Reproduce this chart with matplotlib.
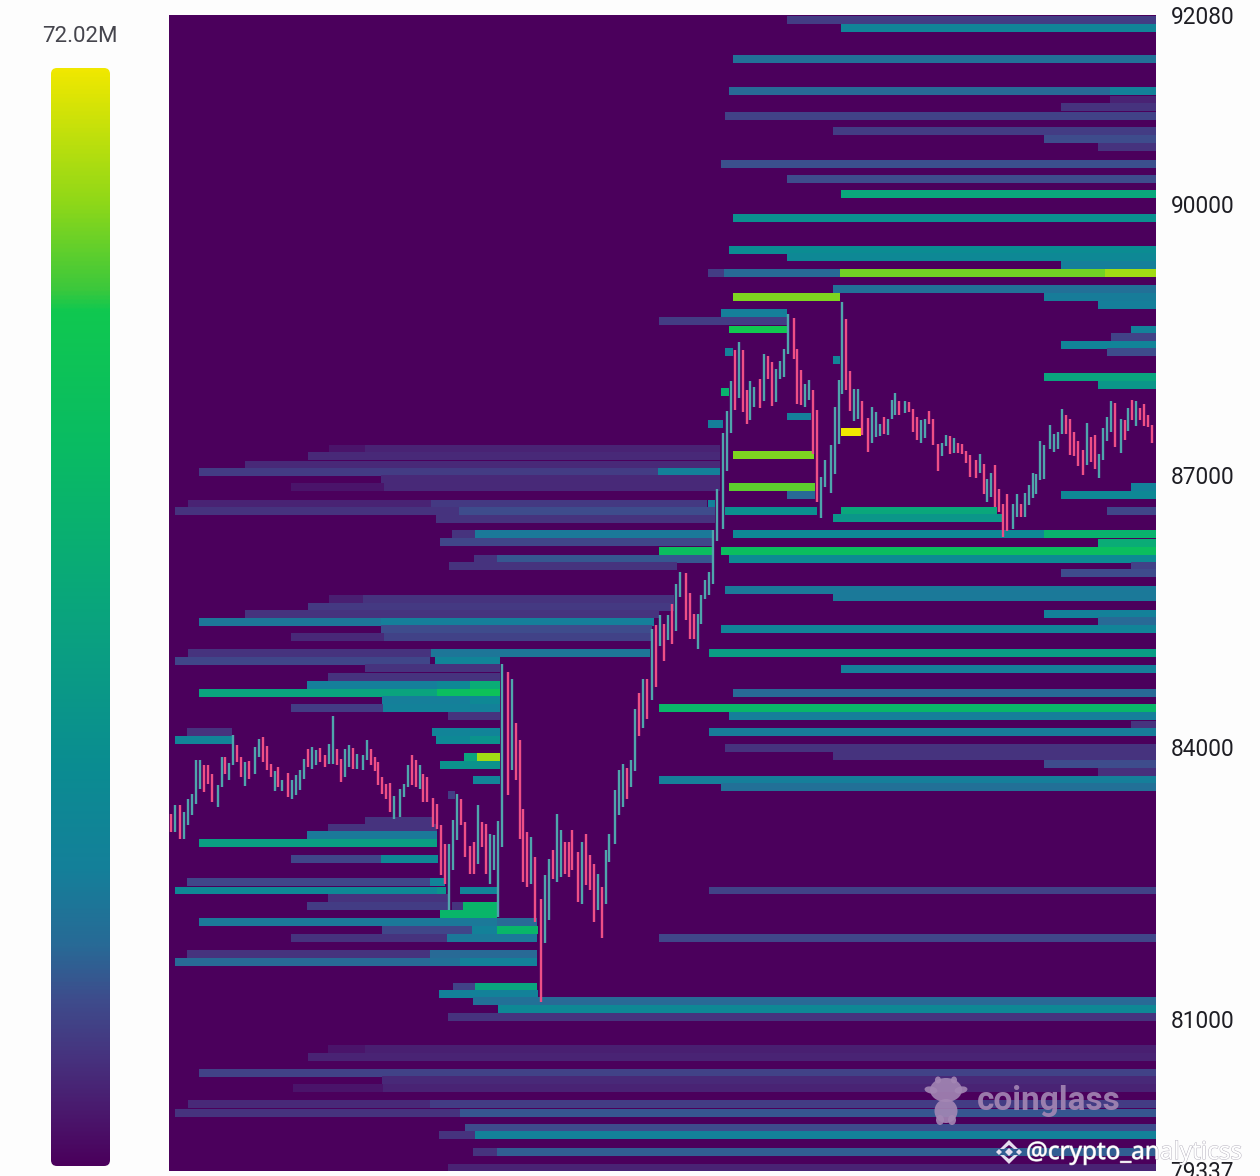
import numpy as np
import matplotlib
matplotlib.use("Agg")
import matplotlib.pyplot as plt
from matplotlib.colors import LinearSegmentedColormap, Normalize
from matplotlib.patches import FancyBboxPatch, Ellipse, Polygon
import matplotlib.patheffects as pe

W, H = 1260, 1176
MAX_VALUE = 72.02
y_ticks = [92080, 90000, 87000, 84000, 81000, 79337]
colorbar_label = "72.02M"

# ---- liquidation heat bands: price row, time start, time end, value in millions
band_price = [
    92030, 91940, 91590, 91240, 91240, 91140, 91060, 90970, 90800, 90710,
    90620, 90440, 90270, 90100, 89840, 89490, 89410, 89320, 89230, 89230,
    89230, 89230, 89060, 88970, 88970, 88880, 88790, 88700, 88610, 88610,
    88530, 88440, 88360, 88360, 88270, 88090, 88000, 87920, 87650, 87570,
    87480, 87220, 87040, 86870, 86870, 86780, 86780, 86690, 86610, 86610,
    86610, 86530, 86350, 86350, 86250, 86170, 86170, 86080, 86000, 85920,
    85740, 85660, 85470, 85390, 85300, 85040, 84860, 84600, 84430, 84340,
    84250, 84170, 83990, 83900, 83820, 83730, 83640, 83560, 82420, 81900,
    81360, 81360, 81280, 81200, 81200, 81110, 81020, 80670, 80670, 80580,
    80410, 80330, 80240, 80240, 80060, 80060, 79970, 79970, 79800, 79720,
    79720, 79540, 79540, 79360,
    87290, 87290, 87210, 87120, 87040, 87040, 86960, 86870, 86870, 86690,
    86690, 86610, 86610, 86520, 86350, 86350, 86260, 86170, 86080, 86080,
    86000, 85640, 85640, 85550, 85470, 85380, 85380, 85300, 85220, 85220,
    85040, 85040, 84950, 84950, 84870, 84780, 84690, 84690, 84690, 84600,
    84600, 84600, 84520, 84520, 84430, 84430, 84340, 84170, 84170, 84080,
    84080, 84080, 83890, 83890, 83810, 83640, 83470, 83190, 83110, 83030,
    82940, 82770, 82770, 82510, 82510, 82420, 82420, 82420, 82340, 82250,
    82250, 82250, 82160, 82070, 82070, 81980, 81980, 81980, 81900, 81900,
    81720, 81720, 81630, 81630, 81630,
]
band_start = [
    617, 671, 563, 559, 940, 940, 891, 555, 663, 874,
    928, 551, 617, 671, 563, 559, 617, 891, 538, 554,
    670, 935, 663, 563, 874, 928, 551, 489, 559, 961,
    941, 891, 937, 555, 663, 874, 928, 551, 617, 538,
    671, 563, 488, 559, 961, 617, 891, 538, 555, 671,
    937, 663, 563, 874, 928, 551, 489, 559, 961, 891,
    555, 663, 874, 928, 551, 539, 671, 563, 489, 559,
    961, 539, 555, 663, 874, 928, 489, 551, 539, 489,
    283, 305, 269, 303, 370, 328, 278, 158, 195, 138,
    29, 212, 123, 213, 18, 260, 5, 290, 295, 269,
    305, 303, 327, 278,
    159, 195, 138, 75, 29, 488, 211, 121, 214, 18,
    261, 5, 289, 266, 282, 305, 270, 489, 304, 327,
    279, 159, 193, 138, 75, 29, 211, 211, 121, 214,
    18, 261, 5, 265, 195, 158, 137, 267, 300, 29,
    267, 300, 212, 300, 121, 213, 278, 17, 262, 5,
    266, 300, 294, 307, 270, 303, 278, 195, 158, 137,
    29, 121, 211, 17, 260, 5, 267, 290, 158, 137,
    282, 293, 270, 29, 327, 212, 302, 327, 121, 277,
    17, 260, 5, 260, 290,
]
band_end = [
    986, 986, 986, 940, 986, 986, 986, 986, 986, 986,
    986, 986, 986, 986, 986, 986, 986, 986, 554, 670,
    935, 986, 986, 670, 986, 986, 617, 617, 617, 986,
    986, 986, 986, 563, 670, 986, 986, 559, 641, 553,
    691, 644, 550, 645, 986, 645, 986, 545, 647, 827,
    986, 832, 874, 986, 986, 986, 542, 986, 986, 986,
    986, 986, 986, 986, 986, 986, 986, 986, 986, 986,
    986, 986, 986, 986, 986, 986, 986, 986, 986, 986,
    305, 367, 368, 370, 986, 986, 986, 195, 986, 986,
    986, 986, 213, 986, 260, 986, 290, 986, 986, 305,
    986, 327, 986, 986,
    195, 550, 550, 550, 488, 550, 550, 214, 550, 261,
    537, 289, 545, 545, 305, 543, 543, 543, 327, 543,
    507, 193, 504, 504, 489, 211, 484, 482, 214, 482,
    261, 480, 260, 330, 330, 330, 267, 300, 330, 267,
    300, 330, 300, 330, 213, 330, 330, 62, 330, 62,
    300, 330, 307, 330, 330, 330, 285, 262, 267, 267,
    267, 211, 268, 260, 275, 267, 276, 327, 278, 278,
    293, 327, 327, 327, 367, 302, 327, 368, 277, 367,
    260, 367, 260, 290, 367,
]
band_value = [
    8.6, 21.6, 15.8, 14.4, 20.2, 5.0, 7.2, 9.4, 8.6, 10.8,
    7.2, 11.5, 10.8, 37.4, 27.4, 25.9, 23.8, 19.4, 8.6, 14.4,
    61.2, 64.8, 15.8, 61.9, 18.7, 19.4, 19.4, 8.6, 56.2, 20.2,
    9.4, 21.6, 10.8, 20.2, 21.6, 36.0, 30.2, 43.2, 19.4, 19.4,
    72.02, 61.9, 20.2, 59.8, 20.2, 14.4, 23.8, 20.2, 27.4, 37.4,
    10.1, 30.2, 23.8, 43.2, 39.6, 49.0, 49.0, 25.2, 9.4, 10.8,
    18.0, 18.0, 20.2, 14.4, 21.6, 33.1, 19.4, 14.4, 44.6, 19.4,
    7.2, 18.7, 7.2, 7.2, 10.8, 6.5, 19.4, 15.8, 9.4, 10.1,
    9.4, 36.0, 20.2, 15.8, 14.4, 23.8, 7.2, 2.9, 4.3, 5.0,
    9.4, 5.8, 2.9, 5.0, 5.8, 8.6, 7.2, 12.2, 10.8, 7.2,
    20.2, 7.2, 13.0, 5.0,
    2.9, 5.0, 5.8, 5.8, 8.6, 20.2, 5.8, 2.9, 5.8, 5.0,
    7.9, 7.2, 10.8, 7.2, 7.2, 18.0, 10.1, 49.0, 7.2, 12.2,
    7.2, 4.3, 7.2, 7.9, 7.2, 17.3, 19.4, 10.8, 5.8, 9.4,
    7.2, 17.3, 10.1, 21.6, 7.2, 7.2, 19.4, 23.8, 39.6, 36.0,
    49.0, 51.8, 19.4, 23.8, 8.6, 20.2, 7.2, 7.2, 21.6, 21.6,
    23.8, 28.8, 36.0, 64.8, 28.8, 21.6, 8.6, 7.2, 7.2, 18.0,
    33.8, 10.1, 23.8, 10.1, 21.6, 23.8, 28.8, 21.6, 7.2, 8.6,
    7.2, 44.6, 44.6, 18.0, 14.4, 10.1, 20.2, 44.6, 7.2, 18.0,
    7.2, 14.4, 14.4, 15.8, 20.2,
]

# ---- candles
candle_time = [
    0.7, 4.7, 10.3, 14.3, 18.3, 22.3, 26, 30, 34, 38,
    42, 48, 52, 55.3, 59.3, 63.3, 67, 71, 75, 78.7,
    85, 89, 92.7, 96.7, 100.7, 104.7, 108.3, 112.3, 118, 122,
    125.7, 129.7, 133.7, 137.7, 141.7, 145.7, 149.7, 155, 159.3, 163.3,
    167, 171, 175, 179, 182.7, 186.7, 192.7, 196.7, 200.7, 204.7,
    208.3, 212.3, 216.3, 220, 224, 230, 233.7, 237.7, 241.7, 245.7,
    249.7, 253.3, 257.3, 263, 267, 271, 275, 279, 283, 286.7,
    290.7, 294.7, 300.3, 304.3, 308.3, 312.3, 316, 320, 324, 328,
    332, 337.7, 341.7, 345.7, 349.7, 353.3, 357.3, 361.3, 365.3, 370.7,
    375, 379, 383, 386.7, 390.7, 394.7, 398.7,
    402, 408, 412, 416, 420, 424, 428, 432, 435.7, 439.3,
    445.3, 449, 453, 457, 461, 465, 468.7, 472.7, 476.7, 482.3,
    486.3, 490, 494, 498, 502, 505.7, 509.7, 515.7, 519.7, 523.7,
    527.7, 531.3, 535.3, 539.3, 543,
    547, 552.7, 557, 560.7, 565, 568.7, 572.7, 576.7, 580.3, 584.3,
    590.3, 594, 598, 602, 606, 610, 614, 618, 623.7, 627.3,
    631.3, 635.3, 639, 643, 647, 651, 655, 661, 664.7, 668.7,
    672.3, 676.3, 680.3, 684.3, 688, 692, 698, 702, 706, 710,
    713.7, 717.7, 721.7, 725.3, 729.3, 735.3, 739, 743, 747, 751,
    755, 759, 762.7, 768.3, 772.3, 776, 780, 783.7, 788, 792,
    796, 800, 806, 809.7, 813.7, 817.3, 821, 825, 829, 833,
    837, 842.7, 847, 851, 854.7, 858.7, 862.7, 866.3, 870.3, 874.3,
    880, 884, 888, 892, 896, 900, 904, 907.7, 913.3, 917,
    921, 925, 929, 933, 937, 941, 945, 950.7, 954.7, 958.3,
    962.3, 966, 970, 974, 978, 982,
]
candle_high = [
    83268, 83360, 83360, 83286, 83433, 83481, 83856, 83856, 83801, 83801,
    83709, 83580, 83893, 83893, 83827, 84132, 84022, 83893, 83838, 83849,
    84003, 84088, 84114, 84011, 83820, 83735, 83783, 83636, 83720, 83643,
    83691, 83746, 83875, 83985, 84003, 83967, 83992, 83919, 84033, 84342,
    83985, 83875, 83985, 84022, 83996, 83930, 83911, 84084, 83985, 83893,
    83838, 83672, 83599, 83606, 83463, 83544, 83599, 83801, 83911, 83856,
    83801, 83709, 83672, 83444, 83378, 83139, 82937, 82937, 83202, 83481,
    83433, 83176, 82908, 82955, 83360, 83176, 83158, 83040, 83029, 83183,
    84915, 84831, 84757, 84268, 84084, 83323, 83066, 83011, 82790, 82330,
    82588, 82772, 82871, 83261, 83091, 82955, 82955,
    83084, 82845, 82955, 83047, 82808, 82716, 82606, 82459, 82863, 83047,
    83525, 83753, 83819, 83775, 83856, 84426, 84599, 84757, 84757, 85301,
    85352, 85463, 85363, 85455, 85577, 85797, 85933, 85922, 85705, 85474,
    85466, 85676, 85841, 85933, 86393,
    86853, 87471, 87706, 88041, 88379, 88471, 88386, 87938, 88037, 87974,
    88066, 88335, 88316, 88250, 88177, 88258, 88397, 88783, 88736, 88397,
    88158, 88011, 88048, 87945, 87717, 86982, 87165, 87338, 87754, 88048,
    88912, 88728, 88147, 87956, 87956, 87820, 87636, 87754, 87699, 87570,
    87643, 87625, 87827, 87912, 87820, 87820, 87809, 87735, 87643, 87607,
    87625, 87710, 87625, 87349, 87357, 87449, 87430, 87415, 87357, 87342,
    87265, 87228, 87165, 87232, 87129, 86956, 87026, 87118, 86853, 86687,
    86790, 86687, 86790, 86680, 86809, 86897, 87029, 87018, 87375, 87331,
    87552, 87452, 87478, 87735, 87662, 87625, 87478, 87379, 87276, 87577,
    87423, 87441, 87232, 87526, 87643, 87820, 87802, 87625, 87614, 87743,
    87827, 87820, 87746, 87790, 87662, 87559,
]
candle_low = [
    83066, 83066, 82985, 82985, 83139, 83250, 83378, 83544, 83507, 83599,
    83397, 83342, 83562, 83709, 83636, 83801, 83838, 83672, 83570, 83654,
    83709, 83893, 83838, 83746, 83672, 83518, 83562, 83518, 83452, 83433,
    83470, 83525, 83654, 83783, 83764, 83801, 83838, 83783, 83820, 83820,
    83801, 83617, 83672, 83783, 83764, 83764, 83746, 83856, 83801, 83739,
    83580, 83489, 83433, 83286, 83213, 83231, 83452, 83562, 83580, 83562,
    83544, 83397, 83397, 83121, 83102, 82588, 82496, 82202, 82643, 82974,
    83139, 82790, 82606, 82606, 82716, 82900, 82606, 82496, 82643, 82128,
    82900, 83470, 83746, 83636, 82992, 82514, 82459, 82496, 82073, 81190,
    81841, 82091, 82551, 82514, 82569, 82606, 82569,
    82642, 82293, 82275, 82477, 82422, 82072, 82201, 81900, 82275, 82734,
    82937, 83249, 83341, 83433, 83562, 83738, 84124, 84216, 84308, 84518,
    84665, 85113, 84952, 85187, 85135, 85282, 85658, 85400, 85198, 85198,
    85088, 85363, 85639, 85676, 85797,
    86272, 86412, 87048, 87467, 87717, 87857, 87699, 87563, 87607, 87754,
    87743, 87820, 88059, 87768, 87809, 88066, 88085, 88335, 88287, 87783,
    87772, 87754, 87827, 87239, 86706, 86533, 86871, 86809, 87011, 87342,
    87901, 87945, 87710, 87599, 87625, 87441, 87257, 87360, 87423, 87430,
    87452, 87441, 87618, 87662, 87662, 87688, 87699, 87478, 87386, 87357,
    87415, 87570, 87331, 87048, 87213, 87324, 87239, 87246, 87246, 87239,
    87136, 86982, 86974, 87026, 86798, 86706, 86761, 86651, 86595, 86320,
    86386, 86412, 86540, 86540, 86540, 86669, 86754, 86790, 86952, 86956,
    87294, 87257, 87294, 87460, 87452, 87220, 87210, 87099, 87007, 87118,
    87147, 87066, 86974, 87165, 87379, 87478, 87313, 87246, 87386, 87489,
    87607, 87544, 87607, 87544, 87533, 87357,
]
# g = rising candle, r = falling candle; same order as candle_time
candle_dir = "".join([
    "rgrgggggrr", "rggrggrrgr", "ggrrrgrgrg", "gggrggrrgg", "rrggrgggrr",
    "rrrrggggrr", "grrrrrrggg", "rrrrgrrggg", "grgrrrrgrr", "ggrggrr",
    "rrgrrrgrgg", "gggrggrgrg", "rgrgrggrrr", "ggggg",
    "ggggrgrrgg", "rgrrggggrr", "rggrrggggg", "grrggrrggg", "rgggrgrrrg",
    "grrrggrgrr", "rrrgrggrrr", "rggrgggggg", "ggggrrrrrg", "rrggggrgrg",
    "rgrrrr",
])
assert len(band_price) == len(band_start) == len(band_end) == len(band_value)
assert len(candle_time) == len(candle_high) == len(candle_low) == len(candle_dir)

UP_COLOR = "#4fa5ac"
DOWN_COLOR = "#ee4f86"
cmap = LinearSegmentedColormap.from_list("heat", [
    (0.00, "#4b005c"), (0.05, "#4a1a6e"), (0.10, "#46347f"), (0.15, "#3e4c8c"),
    (0.20, "#286a96"), (0.27, "#14809a"), (0.36, "#0b8c92"), (0.50, "#0aa47e"),
    (0.65, "#09bb64"), (0.78, "#10c850"), (0.80, "#3cc83c"), (0.88, "#90d818"),
    (1.00, "#f0e800"),
])
norm = Normalize(0, MAX_VALUE)

plt.rcParams["font.family"] = ["Roboto", "DejaVu Sans"]
fig = plt.figure(figsize=(W / 100, H / 100), dpi=100, facecolor="#fdfdfd")

# main heatmap
ax = fig.add_axes([169 / W, 1 - 1171 / H, (1156 - 169) / W, (1171 - 15) / H])
ax.set_facecolor(cmap(0.0))
ax.set_xlim(-1, 986)
ax.set_ylim(79325, 92080)
ax.barh(band_price, np.array(band_end) - np.array(band_start), left=band_start,
        height=88, color=cmap(norm(np.array(band_value))), linewidth=0, zorder=1)

is_up = np.array([c == "g" for c in candle_dir])
t = np.array(candle_time)
hi = np.array(candle_high)
lo = np.array(candle_low)
ax.vlines(t[is_up], lo[is_up], hi[is_up], color=UP_COLOR, linewidth=1.7, zorder=3)
ax.vlines(t[~is_up], lo[~is_up], hi[~is_up], color=DOWN_COLOR, linewidth=1.7, zorder=3)

for s in ax.spines.values():
    s.set_visible(False)
ax.set_xticks([])
ax.yaxis.tick_right()
ax.set_yticks(y_ticks)
ax.set_yticklabels([str(v) for v in y_ticks], fontsize=16.3, color="#1e1e24")
ax.tick_params(axis="y", length=0, pad=10.5)
for lab in ax.get_yticklabels():
    lab.set_clip_on(False)

# overlay in figure pixels: colour scale and watermarks
ov = fig.add_axes([0, 0, 1, 1], facecolor="none")
ov.set_axis_off()
grad = np.linspace(1, 0, 512).reshape(-1, 1)
im = ov.imshow(grad, cmap=cmap, vmin=0, vmax=1, aspect="auto",
               extent=(51, 110, 1166, 68), interpolation="bilinear")
clip = FancyBboxPatch((51, 68), 59, 1098, boxstyle="round,pad=0,rounding_size=6",
                      transform=ov.transData, facecolor="none", edgecolor="none")
ov.add_patch(clip)
im.set_clip_path(clip)
ov.set_xlim(0, W)
ov.set_ylim(H, 0)
ov.text(80, 36, colorbar_label, ha="center", va="center", fontsize=16, color="#45454d")

# coinglass mascot + word mark
wm = "#a487b4"
for cx, cy, w, h, ang in [(946, 1090, 32, 24, 0), (946, 1111, 23, 24, 0), (931, 1090, 13, 7, 10),
                          (961, 1090, 13, 7, -10), (938, 1080, 6, 7, 0), (954, 1080, 6, 7, 0),
                          (940, 1120, 8, 10, 0), (952, 1120, 8, 10, 0)]:
    ov.add_patch(Ellipse((cx, cy), w, h, angle=ang, facecolor=wm, edgecolor="none", alpha=0.9))
ov.text(1049, 1101, "coinglass", ha="center", va="center", fontsize=24, fontweight="bold",
        family="Roboto", color=wm, alpha=0.9)

# channel watermark
mark = "#e6deee"
for pts in ([(1000, 1149), (1009, 1140), (1018, 1149), (1014, 1149), (1009, 1145), (1004, 1149)],
            [(1000, 1155), (1009, 1164), (1018, 1155), (1014, 1155), (1009, 1159), (1004, 1155)],
            [(1009, 1148), (1013, 1152), (1009, 1156), (1005, 1152)],
            [(996, 1152), (999, 1149), (1002, 1152), (999, 1155)],
            [(1016, 1152), (1019, 1149), (1022, 1152), (1019, 1155)]):
    ov.add_patch(Polygon(pts, closed=True, facecolor=mark, edgecolor="none"))
ov.text(1026, 1153, "@crypto_analyticss", ha="left", va="center", fontsize=17.5,
        family="Noto Sans", color="white",
        path_effects=[pe.withStroke(linewidth=0.7, foreground="#b8b4c0")])

fig.savefig("out.png", dpi=100, facecolor=fig.get_facecolor())
